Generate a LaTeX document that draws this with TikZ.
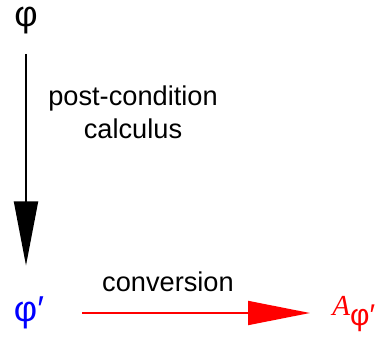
\documentclass[tikz,border=0pt]{standalone}
\usepackage{fontspec}
\setmainfont{Liberation Sans}
\newfontfamily\timesfont{Liberation Serif}
\usepackage{xcolor}
\usepackage{tikz}
\usetikzlibrary{arrows.meta, positioning}

\begin{document}
\begin{tikzpicture}[
  x=0.5pt, y=-0.5pt,
  every node/.style={font=\fontsize{13.6}{16.5}\selectfont, inner sep=0pt},
  greek/.style={font=\fontsize{18}{20}\selectfont},
  flow/.style={line width=0.9pt, -{Triangle[length=32pt, width=12pt]}},
  conv/.style={flow, draw=red, -{Triangle[length=31pt, width=12pt]}, color=red}
]
\useasboundingbox (0,0) rectangle (381,343);

\node[greek] (phi) at (26,21) {φ};
\node[greek, color=blue] (phiprime) at (29,313) {φ′};
\node[color=red, anchor=west] (aphi) at (332,314)
  {{\timesfont\itshape\fontsize{14.5}{16}\selectfont A}\raisebox{-5pt}{\fontsize{15}{16}\selectfont φ′}};

\node[align=center] (post) at (133,112) {post-condition\\calculus};
\node (convlabel) at (168,282) {conversion};

\draw[flow] (phi.south) -- (phi |- phiprime.north)
  [shorten <=9.5pt, shorten >=15.5pt];
\draw[conv] (phiprime.east) -- (phiprime.east -| aphi.west)
  [shorten <=19pt, shorten >=11pt];
\end{tikzpicture}
\end{document}
